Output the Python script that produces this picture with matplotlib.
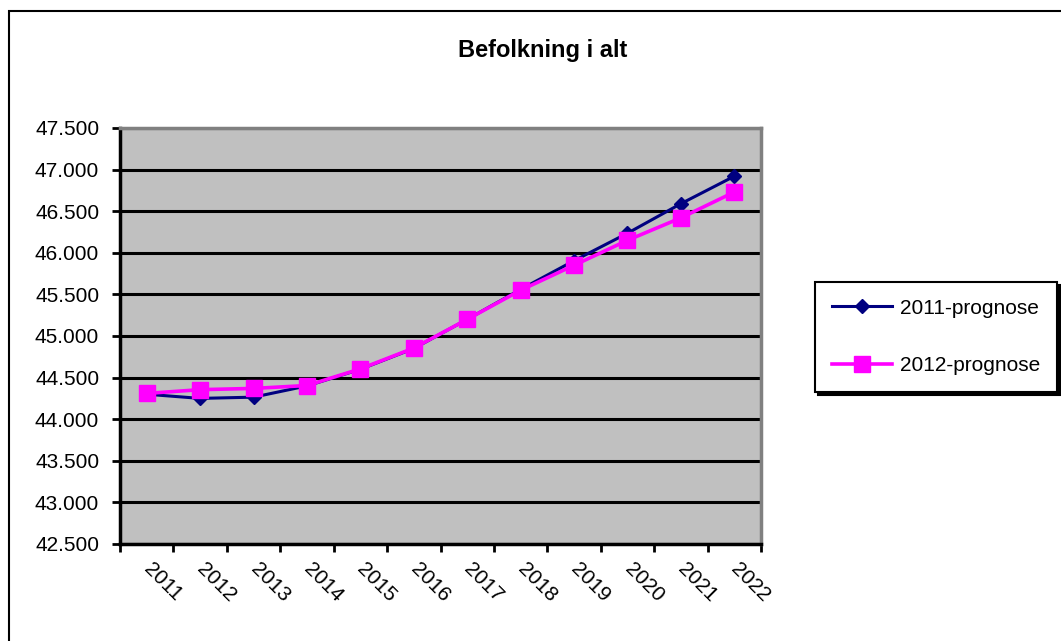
import numpy as np
import matplotlib
matplotlib.use("Agg")
import matplotlib.pyplot as plt
from matplotlib.patches import Rectangle
from matplotlib.ticker import FixedLocator, FuncFormatter

plt.rcParams['font.family'] = ['Liberation Sans', 'DejaVu Sans']

years = ['2011', '2012', '2013', '2014', '2015', '2016',
         '2017', '2018', '2019', '2020', '2021', '2022']
prognose_2011 = [44300, 44250, 44265, 44400, 44600, 44850,
                 45200, 45560, 45905, 46235, 46590, 46920]
prognose_2012 = [44310, 44355, 44370, 44405, 44605, 44855,
                 45200, 45550, 45850, 46150, 46420, 46730]
y_ticks = np.arange(42500, 47501, 500)

fig = plt.figure(figsize=(10.61, 6.41), dpi=100)
ax = fig.add_axes([120 / 1061, 1 - 544 / 641, 641 / 1061, 416 / 641])
ax.set_facecolor('#c0c0c0')

x = np.arange(len(years))
ax.plot(x, prognose_2011, color='#000080', lw=2.2, marker='D', ms=7,
        label='2011-prognose', zorder=3)
ax.plot(x, prognose_2012, color='#ff00ff', lw=2.6, marker='s', ms=11,
        label='2012-prognose', zorder=4)

ax.set_xlim(-0.5, len(years) - 0.5)
ax.set_ylim(y_ticks[0], y_ticks[-1])

# y axis
ax.yaxis.set_major_locator(FixedLocator(y_ticks))
ax.yaxis.set_major_formatter(FuncFormatter(lambda v, p: f'{int(v):,}'.replace(',', '.')))
ax.grid(axis='y', color='black', lw=2.2)
ax.set_axisbelow(True)
ax.tick_params(axis='y', length=6, width=2, pad=9, labelsize=15)

# x axis: ticks between categories, labels at centres
ax.xaxis.set_major_locator(FixedLocator(np.arange(-0.5, len(years), 1)))
ax.xaxis.set_minor_locator(FixedLocator(x))
ax.set_xticklabels([], minor=False)
ax.set_xticklabels(years, minor=True, rotation=-45, ha='left', va='center',
                   rotation_mode='anchor')
ax.tick_params(axis='x', which='major', length=6, width=2)
ax.tick_params(axis='x', which='minor', length=0, pad=16, labelsize=15)

for s in ['left', 'bottom']:
    ax.spines[s].set_linewidth(2.5)
    ax.spines[s].set_color('black')
for s in ['top', 'right']:
    ax.spines[s].set_linewidth(2.5)
    ax.spines[s].set_color('#808080')

fig.text(543 / 1061, 1 - 50 / 641, 'Befolkning i alt', ha='center', va='center',
         fontsize=17, fontweight='bold')

leg = fig.legend(loc='center', bbox_to_anchor=(936 / 1061, 1 - 337 / 641),
                 frameon=True, fancybox=False, shadow={'color': 'black', 'alpha': 1},
                 fontsize=15, handlelength=2.9, labelspacing=1.85, borderpad=0.8,
                 handletextpad=0.4, borderaxespad=0)
leg.get_frame().set_edgecolor('black')
leg.get_frame().set_linewidth(1.5)

# outer chart border (left and top visible)
fig.patches.append(Rectangle((9 / 1061, -0.5), 1.5, 1.5 - 11 / 641, fill=False,
                             edgecolor='black', lw=1.5, transform=fig.transFigure))

fig.savefig('out.png', dpi=100)
